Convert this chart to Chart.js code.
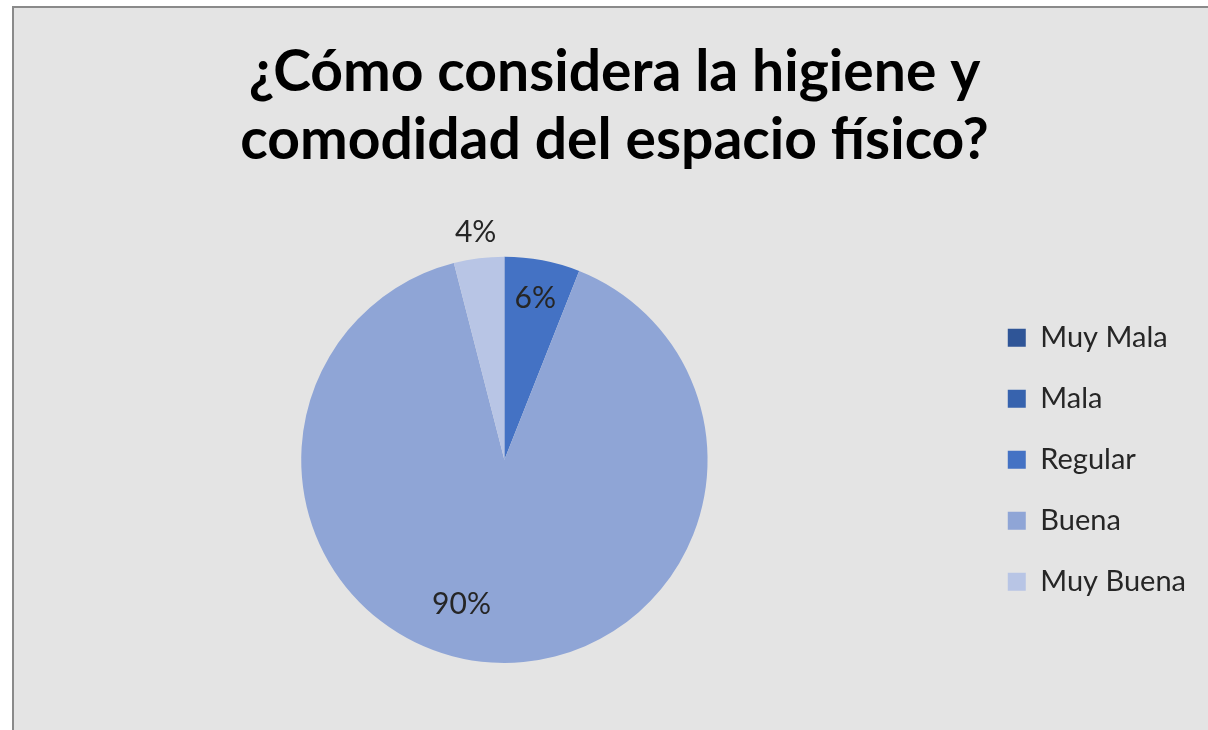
<!DOCTYPE html>
<html>
<head>
<meta charset="utf-8">
<script src="https://cdn.jsdelivr.net/npm/chart.js"></script>
<style>
  html, body { margin: 0; padding: 0; background: #fff; }
  .frame {
    position: absolute; left: 12px; top: 6px; width: 1196px; height: 724px;
    background: #e4e4e4; border-left: 2px solid #8a8a8a; border-top: 2px solid #8a8a8a;
  }
  .frame canvas { display: block; }
</style>
</head>
<body>
<div class="frame">
  <canvas id="pieChart" width="1194" height="722"></canvas>
</div>
<script>
  const categories = ['Muy Mala', 'Mala', 'Regular', 'Buena', 'Muy Buena'];
  const shares = [0, 0, 6, 90, 4];
  const colors = ['#2f5597', '#3763ae', '#4472c4', '#8fa5d6', '#b8c5e5'];

  // label placement per slice: [radius factor, fraction along the arc]
  const labelSpots = [null, null, [0.81, 0.5], [0.74, 0.54], [1.13, 0.5]];

  const sliceLabels = {
    id: 'sliceLabels',
    afterDatasetsDraw(chart) {
      const ctx = chart.ctx;
      const meta = chart.getDatasetMeta(0);
      ctx.save();
      ctx.font = '30px Lato';
      ctx.fillStyle = '#262626';
      ctx.textAlign = 'center';
      ctx.textBaseline = 'middle';
      meta.data.forEach((arc, i) => {
        const spot = labelSpots[i];
        if (!spot || !shares[i]) return;
        const p = arc.getProps(['x', 'y', 'startAngle', 'endAngle', 'outerRadius'], true);
        const a = p.startAngle + (p.endAngle - p.startAngle) * spot[1];
        const r = p.outerRadius * spot[0];
        ctx.fillText(shares[i] + '%', p.x + Math.cos(a) * r, p.y + Math.sin(a) * r);
      });
      ctx.restore();
    }
  };

  new Chart(document.getElementById('pieChart'), {
    type: 'pie',
    data: {
      labels: categories,
      datasets: [{
        data: shares,
        backgroundColor: colors,
        borderWidth: 0
      }]
    },
    options: {
      responsive: false,
      animation: false,
      layout: { padding: { left: 19, right: 12, top: 0, bottom: 67 } },
      plugins: {
        tooltip: { enabled: false },
        title: {
          display: true,
          text: ['¿Cómo considera la higiene y', 'comodidad del espacio físico?'],
          color: '#000',
          font: { family: 'Lato', size: 57, weight: 'bold', lineHeight: 1.19 },
          padding: { top: 31, bottom: 82 }
        },
        legend: {
          position: 'right',
          fullSize: false,
          labels: {
            color: '#262626',
            font: { family: 'Lato', size: 29 },
            boxWidth: 18,
            boxHeight: 18,
            padding: 32
          }
        }
      }
    },
    plugins: [sliceLabels]
  });
</script>
</body>
</html>
